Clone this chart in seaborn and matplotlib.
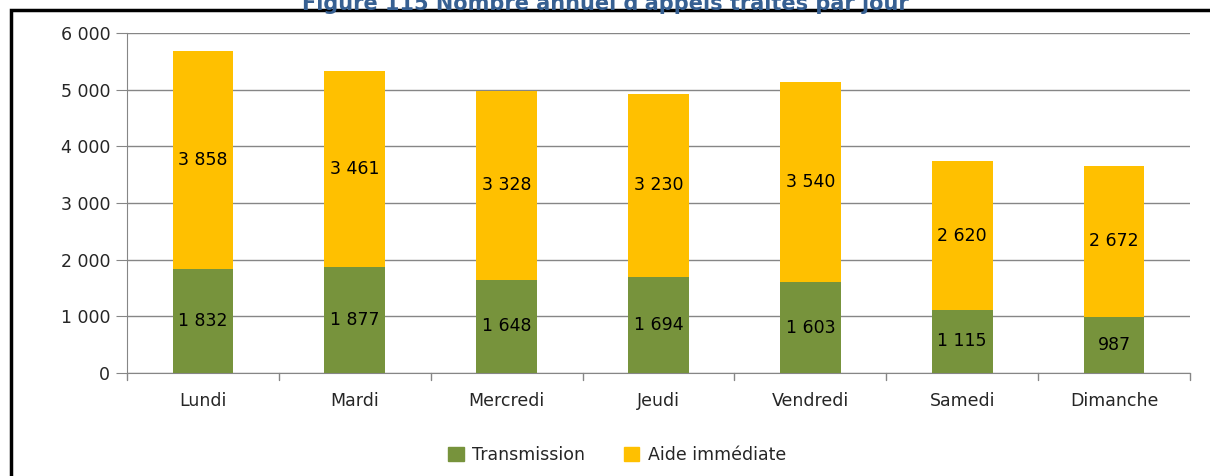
import pandas as pd
import numpy as np
import matplotlib.pyplot as plt
import seaborn as sns
from matplotlib.patches import Rectangle, Patch

# Données
jours = ['Lundi', 'Mardi', 'Mercredi', 'Jeudi', 'Vendredi', 'Samedi', 'Dimanche']
transmission = [1832, 1877, 1648, 1694, 1603, 1115, 987]
aide_immediate = [3858, 3461, 3328, 3230, 3540, 2620, 2672]

vert = '#77933C'
jaune = '#FFC000'

def fmt(v):
    return f"{v:,}".replace(',', ' ')

df = pd.DataFrame({'Jour': jours, 'Transmission': transmission, 'Aide immédiate': aide_immediate})
df['Total'] = df['Transmission'] + df['Aide immédiate']

sns.set_style("white")
plt.rcParams['font.family'] = ['DejaVu Sans']

fig = plt.figure(figsize=(12.1, 4.76), dpi=100)
ax = fig.add_axes([127 / 1210, 1 - 373 / 476, (1190 - 127) / 1210, 340 / 476])

# barres empilées: total en jaune puis transmission en vert par dessus
sns.barplot(data=df, x='Jour', y='Total', color=jaune, width=0.4, saturation=1, ax=ax,
            zorder=3, linewidth=0)
sns.barplot(data=df, x='Jour', y='Transmission', color=vert, width=0.4, saturation=1, ax=ax,
            zorder=3, linewidth=0)

# étiquettes
for i, row in df.iterrows():
    ax.text(i, row['Transmission'] / 2, fmt(row['Transmission']), ha='center', va='center',
            fontsize=12.5, color='black', zorder=4)
    ax.text(i, row['Transmission'] + row['Aide immédiate'] / 2, fmt(row['Aide immédiate']),
            ha='center', va='center', fontsize=12.5, color='black', zorder=4)

ax.set_ylim(0, 6000)
ax.set_xlim(-0.5, len(jours) - 0.5)
ax.set_yticks(range(0, 6001, 1000))
ax.set_yticklabels([fmt(v) for v in range(0, 6001, 1000)], fontsize=12.5, color='#262626')
ax.set_xticklabels(jours, fontsize=12.5, color='#262626')
ax.set_xlabel('')
ax.set_ylabel('')
ax.yaxis.grid(True, color='#868686', linewidth=1, zorder=0)
ax.set_axisbelow(True)
for s in ['top', 'right']:
    ax.spines[s].set_visible(False)
ax.spines['left'].set_color('#868686')
ax.spines['bottom'].set_color('#868686')
ax.tick_params(axis='y', length=8, color='#868686', pad=4, left=True)
ax.tick_params(axis='x', length=0, pad=14)
# graduations entre les catégories
for b in np.arange(-0.5, len(jours), 1):
    ax.plot([b, b], [0, -0.02], transform=ax.get_xaxis_transform(), color='#868686',
            linewidth=1, clip_on=False)

# légende
handles = [Patch(color=vert, label='Transmission'), Patch(color=jaune, label='Aide immédiate')]
fig.legend(handles=handles, loc='center', bbox_to_anchor=(0.51, 1 - 455 / 476), ncol=2,
           frameon=False, fontsize=12.5, handlelength=0.9, handleheight=0.9, columnspacing=2.2,
           handletextpad=0.5)

# cadre et titre (coupé en haut comme l'original)
fig.patches.append(Rectangle((11 / 1210, -0.1), 1.2, 1 - 10 / 476 + 0.1, transform=fig.transFigure,
                             fill=False, edgecolor='black', linewidth=2.5))
fig.text(0.5, 1 - 3 / 476, "Figure 115 Nombre annuel d'appels traités par jour", ha='center',
         va='center', fontsize=15, fontweight='bold', color='#376092')

fig.savefig('out.png', dpi=100)
